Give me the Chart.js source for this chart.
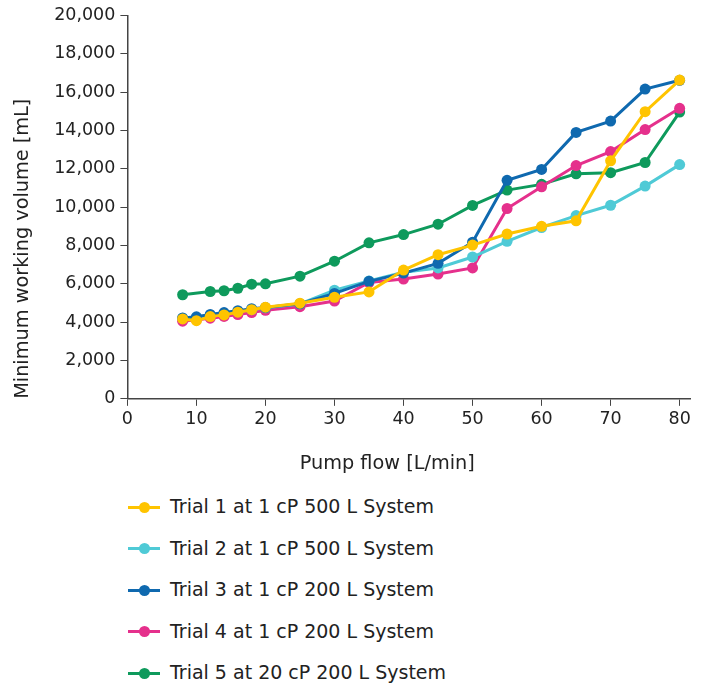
<!DOCTYPE html>
<html>
<head>
<meta charset="utf-8">
<script src="https://cdn.jsdelivr.net/npm/chart.js@4"></script>
<style>
  body { margin: 0; background: #fff; font-family: "DejaVu Sans", sans-serif; }
  #wrap { position: relative; width: 707px; height: 689px; }
  #legend { position: absolute; left: 128px; top: 486px; }
  .item { position: relative; height: 41.5px; font-size: 19px; color: #222; }
  .item .ln { position: absolute; left: 0; top: 19.5px; width: 32px; height: 3px; }
  .item .dot { position: absolute; left: 10.5px; top: 15.5px; width: 11px; height: 11px; border-radius: 50%; }
  .item span { position: absolute; left: 42px; top: 9px; white-space: nowrap; }
</style>
</head>
<body>
<div id="wrap">
  <canvas id="chart" width="707" height="485"></canvas>
  <div id="legend"></div>
</div>
<script>
const flow = [8, 10, 12, 14, 16, 18, 20, 25, 30, 35, 40, 45, 50, 55, 60, 65, 70, 75, 80]
const flowTrial5 = [8, 12, 14, 16, 18, 20, 25, 30, 35, 40, 45, 50, 55, 60, 65, 70, 75, 80]

const trial1 = [4170, 4080, 4290, 4380, 4520, 4650, 4780, 4990, 5300, 5580, 6720, 7520, 8020, 8600, 9000, 9290, 12420, 14980, 16630]
const trial2 = [4200, 4250, 4350, 4450, 4550, 4650, 4750, 4950, 5670, 6150, 6600, 6830, 7400, 8220, 8940, 9560, 10100, 11100, 12220]
const trial3 = [4220, 4280, 4400, 4500, 4600, 4700, 4760, 4960, 5500, 6130, 6560, 7070, 8170, 11400, 11970, 13900, 14490, 16160, 16620]
const trial4 = [4050, 4120, 4210, 4300, 4400, 4500, 4620, 4810, 5100, 6070, 6250, 6510, 6830, 9930, 11060, 12170, 12900, 14050, 15160]
const trial5 = [5430, 5600, 5640, 5770, 5980, 6000, 6400, 7180, 8140, 8570, 9110, 10090, 10890, 11190, 11740, 11800, 12330, 14960]

const labels = [
  'Trial 1 at 1 cP 500 L System',
  'Trial 2 at 1 cP 500 L System',
  'Trial 3 at 1 cP 200 L System',
  'Trial 4 at 1 cP 200 L System',
  'Trial 5 at 20 cP 200 L System'
]
const colors = ['#FFC400', '#4FCAD6', '#0F69AF', '#E5308C', '#0E9A5C']
const xTicks = [0, 10, 20, 30, 40, 50, 60, 70, 80]

const xs = [flow, flow, flow, flow, flowTrial5]
const ys = [trial1, trial2, trial3, trial4, trial5]
const drawOrder = [0, 2, 1, 3, 4]

const datasets = ys.map((vals, i) => ({
  label: labels[i],
  data: vals.map((v, j) => ({ x: xs[i][j], y: v })),
  borderColor: colors[i],
  backgroundColor: colors[i],
  borderWidth: 3,
  pointRadius: 5.5,
  pointHoverRadius: 5.5,
  pointBorderWidth: 0,
  order: drawOrder[i],
  tension: 0
}))

const axisColor = '#444'
const tickFont = { family: 'DejaVu Sans', size: 17.5 }
const titleFont = { family: 'DejaVu Sans', size: 19.3 }

new Chart(document.getElementById('chart').getContext('2d'), {
  type: 'line',
  data: { datasets },
  options: {
    responsive: false,
    animation: false,
    layout: { padding: { left: 7, right: 17, top: 10, bottom: 9 } },
    plugins: {
      legend: { display: false },
      tooltip: { enabled: false }
    },
    scales: {
      x: {
        type: 'linear',
        min: 0,
        max: 81.5,
        afterBuildTicks: (axis) => { axis.ticks = xTicks.map(v => ({ value: v })) },
        grid: { drawOnChartArea: false, color: axisColor, tickLength: 7 },
        border: { color: axisColor, width: 1.5 },
        ticks: { color: '#222', font: tickFont, padding: 3.5, maxRotation: 0 },
        // trailing spaces nudge the centred title a bit left, like the original
        title: { display: true, text: 'Pump flow [L/min]\u00a0\u00a0\u00a0\u00a0\u00a0\u00a0\u00a0', color: '#222', font: titleFont, padding: { top: 19, bottom: 0 } }
      },
      y: {
        min: 0,
        max: 20000,
        ticks: { stepSize: 2000, color: '#222', font: tickFont, padding: 5, callback: v => v.toLocaleString('en-US') },
        grid: { drawOnChartArea: false, color: axisColor, tickLength: 7 },
        border: { color: axisColor, width: 1.5 },
        title: { display: true, align: 'start', text: 'Minimum working volume [mL]', color: '#222', font: titleFont, padding: { top: 4, bottom: 15 } }
      }
    }
  }
})

const legend = document.getElementById('legend')
labels.forEach((t, i) => {
  const row = document.createElement('div')
  row.className = 'item'
  row.innerHTML = '<div class="ln" style="background:' + colors[i] + '"></div>' +
    '<div class="dot" style="background:' + colors[i] + '"></div><span>' + t + '</span>'
  legend.appendChild(row)
})
</script>
</body>
</html>
